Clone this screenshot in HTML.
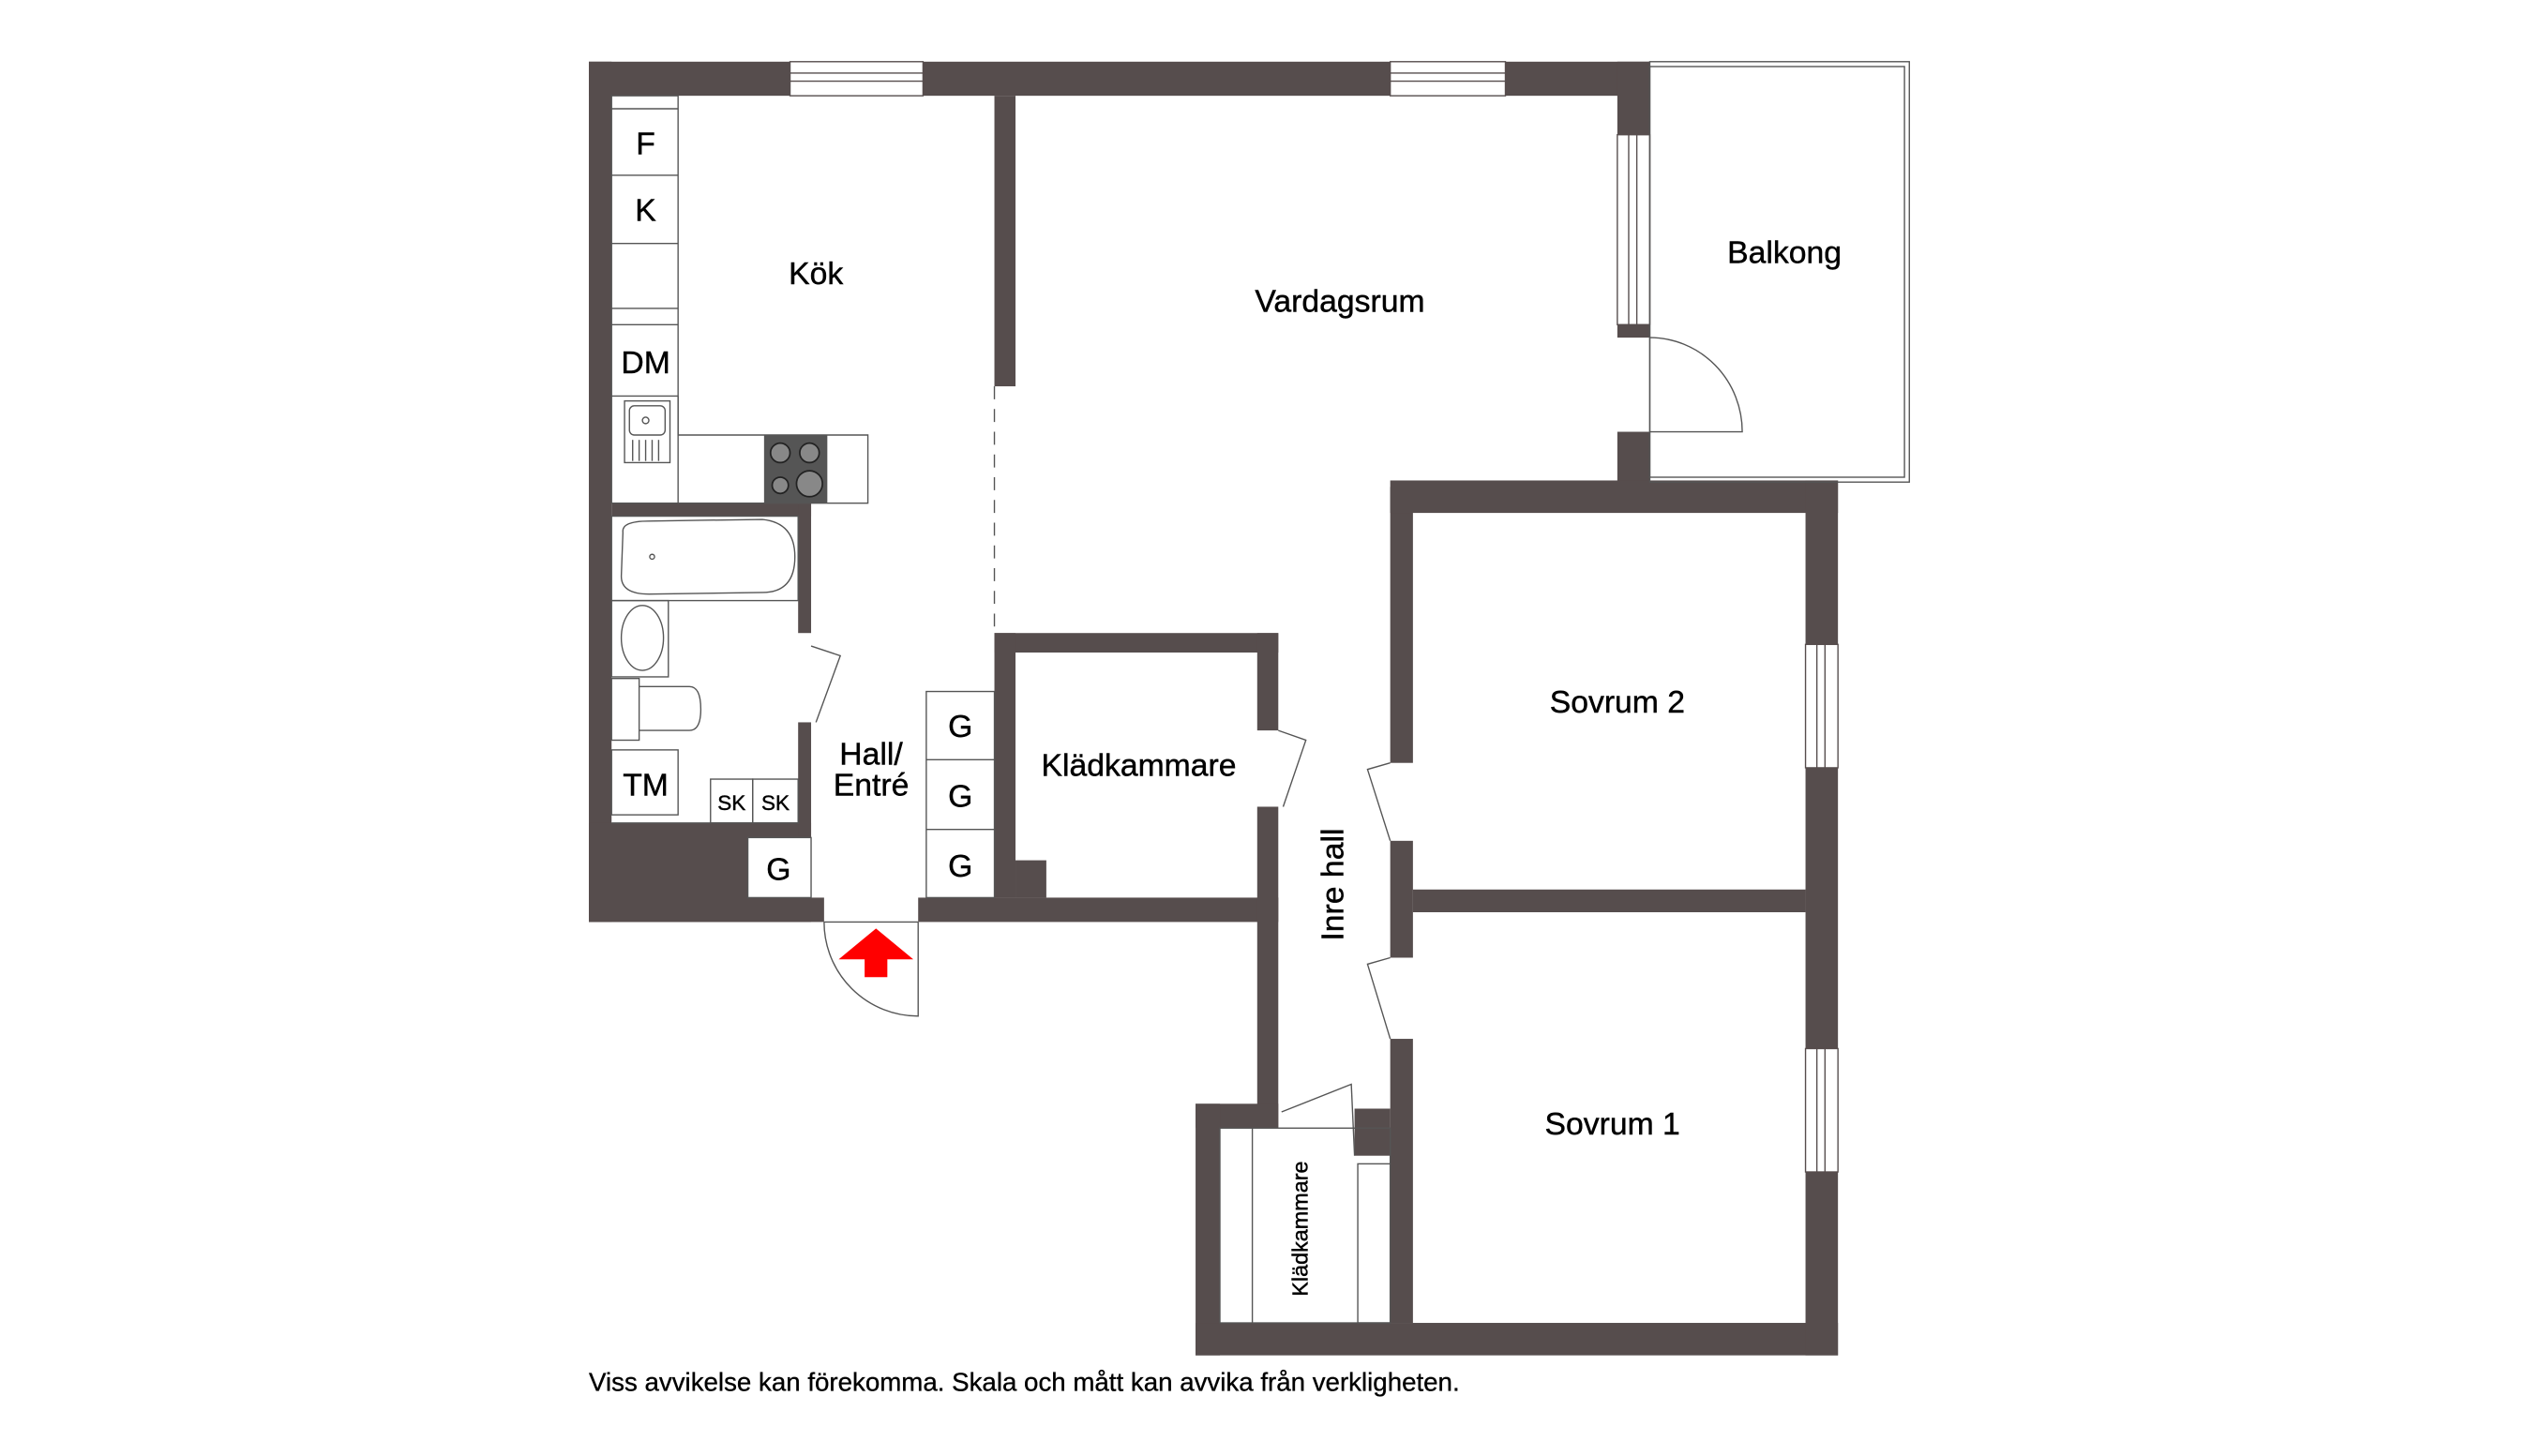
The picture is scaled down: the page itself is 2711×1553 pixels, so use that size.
<!DOCTYPE html>
<html><head><meta charset="utf-8"><style>html,body{margin:0;padding:0;background:#fff}svg{display:block}</style></head><body>
<svg width="2711" height="1553" viewBox="0 0 1567 897" preserveAspectRatio="none" xmlns="http://www.w3.org/2000/svg" font-family="Liberation Sans, sans-serif">
<rect width="1567" height="897" fill="#fff"/>
<g fill="#564d4d">
<rect x="363" y="38" width="654" height="21"/>
<rect x="363" y="38" width="14" height="530"/>
<rect x="363" y="507" width="137" height="61"/>
<rect x="363" y="553" width="145" height="15"/>
<rect x="566" y="553" width="222" height="15"/>
<rect x="613" y="59" width="13" height="179"/>
<rect x="377" y="310" width="123" height="8"/>
<rect x="492" y="310" width="8" height="80"/>
<rect x="492" y="445" width="8" height="70"/>
<rect x="613" y="390" width="175" height="12"/>
<rect x="613" y="390" width="13" height="163"/>
<rect x="626" y="530" width="19" height="23"/>
<rect x="775" y="390" width="13" height="60"/>
<rect x="775" y="497" width="13" height="198"/>
<rect x="737" y="680" width="51" height="15"/>
<rect x="737" y="680" width="15" height="155"/>
<rect x="737" y="815" width="396" height="20"/>
<rect x="835" y="683" width="22" height="29"/>
<rect x="857" y="300" width="14" height="170"/>
<rect x="857" y="518" width="14" height="72"/>
<rect x="857" y="640" width="14" height="175"/>
<rect x="997" y="38" width="20" height="45"/>
<rect x="997" y="200" width="20" height="8"/>
<rect x="997" y="266" width="20" height="34"/>
<rect x="857" y="296" width="276" height="20"/>
<rect x="871" y="548" width="242" height="14"/>
<rect x="1113" y="296" width="20" height="101"/>
<rect x="1113" y="473" width="20" height="173"/>
<rect x="1113" y="722" width="20" height="113"/>
</g>
<g fill="#fff" stroke="#564d4d" stroke-width="0.8">
<rect x="487" y="38" width="82" height="21"/><line x1="487" y1="45" x2="569" y2="45"/><line x1="487" y1="50" x2="569" y2="50"/>
<rect x="857" y="38" width="71" height="21"/><line x1="857" y1="45" x2="928" y2="45"/><line x1="857" y1="50" x2="928" y2="50"/>
<rect x="997" y="83" width="20" height="117"/><line x1="1004" y1="83" x2="1004" y2="200"/><line x1="1009" y1="83" x2="1009" y2="200"/>
<rect x="1113" y="397" width="20" height="76"/><line x1="1120" y1="397" x2="1120" y2="473"/><line x1="1125" y1="397" x2="1125" y2="473"/>
<rect x="1113" y="646" width="20" height="76"/><line x1="1120" y1="646" x2="1120" y2="722"/><line x1="1125" y1="646" x2="1125" y2="722"/>
</g>
<g fill="none" stroke="#555" stroke-width="0.8">
<rect x="1017" y="38" width="160" height="259"/><rect x="1017" y="41" width="157" height="253"/>
<line x1="613" y1="238" x2="613" y2="390" stroke-dasharray="8,6"/>
<rect x="377" y="59" width="41" height="251"/>
<line x1="377" y1="67" x2="418" y2="67"/><line x1="377" y1="108" x2="418" y2="108"/><line x1="377" y1="150" x2="418" y2="150"/><line x1="377" y1="190" x2="418" y2="190"/><line x1="377" y1="200" x2="418" y2="200"/><line x1="377" y1="244" x2="418" y2="244"/>
<polyline points="418,244 418,268 535,268 535,310 377,310"/>
<rect x="385" y="247" width="28" height="38"/><rect x="388" y="250" width="22" height="18" rx="3"/>
<line x1="390" y1="271" x2="390" y2="284"/><line x1="394" y1="271" x2="394" y2="284"/><line x1="398" y1="271" x2="398" y2="284"/><line x1="402" y1="271" x2="402" y2="284"/><line x1="406" y1="271" x2="406" y2="284"/>
<circle cx="398" cy="259" r="2"/>
<rect x="377" y="318" width="115" height="52"/>
<path d="M384,328 Q383,321 400,321 L470,320 Q490,322 490,343 Q490,365 470,365 L400,366 Q383,366 383,355 Z"/>
<circle cx="402" cy="343" r="1.5"/>
<rect x="377" y="370" width="35" height="47"/><ellipse cx="396" cy="393" rx="13" ry="20"/>
<rect x="377" y="418" width="17" height="38"/><path d="M394,423 L425,423 Q432,423 432,437 Q432,450 425,450 L394,450"/>
<rect x="377" y="462" width="41" height="40"/>
<rect x="438" y="480" width="26" height="27"/><rect x="464" y="480" width="28" height="27"/>
<line x1="377" y1="507" x2="492" y2="507"/>
<path d="M500,398 L518,404 L503,445"/>
<rect x="461" y="516" width="39" height="37" fill="#fff"/>
<rect x="571" y="426" width="42" height="127"/><line x1="571" y1="468" x2="613" y2="468"/><line x1="571" y1="511" x2="613" y2="511"/>
<path d="M566,568 L566,626 A58,58 0 0 1 508,568"/>
<line x1="508" y1="568" x2="566" y2="568"/>
<path d="M1017,208 A57,58 0 0 1 1074,266 L1017,266"/>
<path d="M788,450 L805,456 L791,497"/>
<path d="M857,470 L843,474 L857,518"/>
<path d="M857,590 L843,594 L857,640"/>
<path d="M790,685 L833,668 L835,712"/>
<rect x="752" y="695" width="105" height="120"/>
<line x1="772" y1="695" x2="772" y2="815"/>
<rect x="837" y="717" width="20" height="98"/>
</g>
<rect x="471" y="268" width="39" height="42" fill="#555"/>
<g fill="#888" stroke="#222" stroke-width="1"><circle cx="481" cy="279" r="6"/><circle cx="499" cy="279" r="6"/><circle cx="481" cy="299" r="5"/><circle cx="499" cy="298" r="8"/></g>
<polygon points="540,572 563,591 547,591 547,602 533,602 533,591 517,591" fill="#f00"/>
<g fill="#000" font-size="19.5" text-anchor="middle" stroke="#000" stroke-width="0.25">
<text x="398" y="95">F</text><text x="398" y="136">K</text><text x="398" y="230">DM</text><text x="398" y="490">TM</text>
<text x="480" y="542">G</text><text x="592" y="454">G</text><text x="592" y="497">G</text><text x="592" y="540">G</text>
<text x="503" y="175">Kök</text><text x="826" y="192">Vardagsrum</text><text x="1100" y="162">Balkong</text>
<text x="997" y="439">Sovrum 2</text><text x="994" y="699">Sovrum 1</text><text x="702" y="478">Klädkammare</text>
<text x="537" y="471">Hall/</text><text x="537" y="490">Entré</text>
<text font-size="13" x="451" y="499">SK</text><text font-size="13" x="478" y="499">SK</text>
<text transform="translate(828,545) rotate(-90)">Inre hall</text>
<text font-size="13.5" transform="translate(806,757) rotate(-90)">Klädkammare</text>
</g>
<text x="363" y="857" font-size="16" fill="#000" stroke="#000" stroke-width="0.2">Viss avvikelse kan förekomma. Skala och mått kan avvika från verkligheten.</text>
</svg>
</body></html>
